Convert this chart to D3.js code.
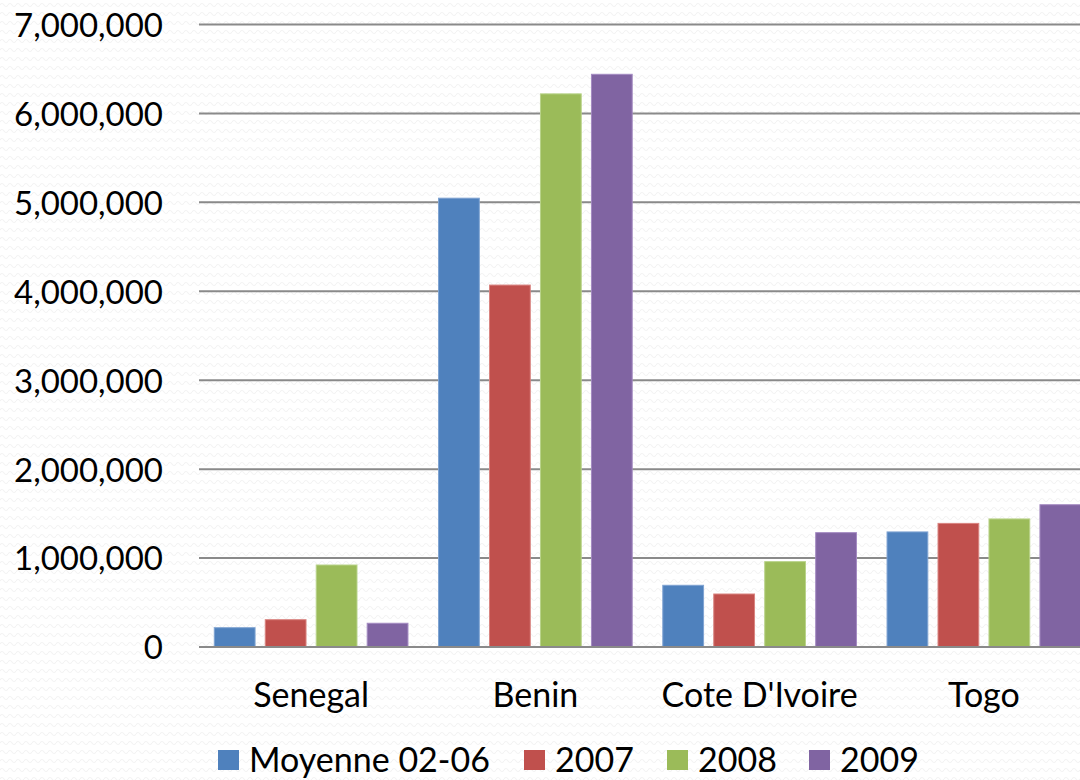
<!DOCTYPE html>
<html>
<head>
<meta charset="utf-8">
<script src="https://cdn.jsdelivr.net/npm/d3@7"></script>
<style>
  html, body { margin: 0; padding: 0; background: #ffffff; }
  svg { display: block; }
  text { font-family: Lato, "Open Sans", sans-serif; fill: #000; }
</style>
</head>
<body>
<div id="chart"></div>
<script>
const categories = ["Senegal", "Benin", "Cote D'Ivoire", "Togo"];
const seriesNames = ["Moyenne 02-06", "2007", "2008", "2009"];
const moyenne0206 = [217000, 5047000, 694000, 1294000];
const y2007 = [307000, 4070000, 596000, 1390000];
const y2008 = [922000, 6220000, 960000, 1440000];
const y2009 = [267000, 6440000, 1286000, 1600000];
const seriesValues = [moyenne0206, y2007, y2008, y2009];
const colors = ["#4F81BD", "#C0504D", "#9BBB59", "#8064A2"];
const strokeColors = ["#7FA3D2", "#D98480", "#B9D38A", "#A48BC2"];
const yTicks = [0, 1000000, 2000000, 3000000, 4000000, 5000000, 6000000, 7000000];

const W = 1080, H = 780;
const svg = d3.select("#chart").append("svg").attr("width", W).attr("height", H);

// faint wavy background texture
const defs = svg.append("defs");
const pat = defs.append("pattern").attr("id", "wave").attr("patternUnits", "userSpaceOnUse")
  .attr("width", 8).attr("height", 9);
pat.append("path").attr("d", "M0,5 Q2,2 4,5 T8,5").attr("fill", "none")
  .attr("stroke", "#f3f3f3").attr("stroke-width", 1.2);
svg.append("rect").attr("width", W).attr("height", H).attr("fill", "url(#wave)");

const plotLeft = 199, plotRight = 1096, plotTop = 24.5, plotBottom = 647;

const x0 = d3.scaleBand().domain(categories).range([plotLeft, plotRight]).padding(0);
const x1 = d3.scaleBand().domain(seriesNames).range([0, x0.bandwidth()]).paddingInner(0.2).paddingOuter(0.3);
const y = d3.scaleLinear().domain([0, 7000000]).range([plotBottom, plotTop]);

// gridlines
svg.append("g").selectAll("line").data(yTicks).join("line")
  .attr("x1", plotLeft).attr("x2", plotRight)
  .attr("y1", d => y(d)).attr("y2", d => y(d))
  .attr("stroke", "#8a8a8a").attr("stroke-width", 2);

// y axis labels
const yAxis = d3.axisLeft(y).tickValues(yTicks).tickSize(0).tickPadding(0)
  .tickFormat(d3.format(","));
const yg = svg.append("g").attr("transform", `translate(163,0)`).call(yAxis);
yg.select(".domain").remove();
yg.selectAll("text").style("font-family", "Lato, 'Open Sans', sans-serif").style("font-size", "33px").attr("fill", "#000").attr("dy", "0.36em");

// bars
const data = [];
categories.forEach((c, i) => seriesNames.forEach((s, j) => data.push({c, s, j, v: seriesValues[j][i]})));
svg.append("g").selectAll("rect").data(data).join("rect")
  .attr("x", d => x0(d.c) + x1(d.s))
  .attr("y", d => y(d.v))
  .attr("width", x1.bandwidth())
  .attr("height", d => y(0) - y(d.v))
  .attr("fill", d => colors[d.j])
  .attr("stroke", d => strokeColors[d.j])
  .attr("stroke-width", 1);

// zero baseline over bars
svg.append("line").attr("x1", plotLeft).attr("x2", plotRight)
  .attr("y1", y(0)).attr("y2", y(0)).attr("stroke", "#8a8a8a").attr("stroke-width", 2);

// x axis labels
const xAxis = d3.axisBottom(x0).tickSize(0).tickPadding(0);
const xg = svg.append("g").attr("transform", `translate(0,${plotBottom})`).call(xAxis);
xg.select(".domain").remove();
xg.selectAll("text").style("font-family", "Lato, 'Open Sans', sans-serif").style("font-size", "34px").attr("fill", "#000").attr("y", 60).attr("dy", "0");

// legend
const legendX = [218, 524, 667, 809];
const lg = svg.append("g");
seriesNames.forEach((s, j) => {
  lg.append("rect").attr("x", legendX[j]).attr("y", 750).attr("width", 21).attr("height", 20).attr("fill", colors[j]);
  lg.append("text").attr("x", legendX[j] + 31).attr("y", 772)
    .style("font-size", "34px").text(s);
});
</script>
</body>
</html>
